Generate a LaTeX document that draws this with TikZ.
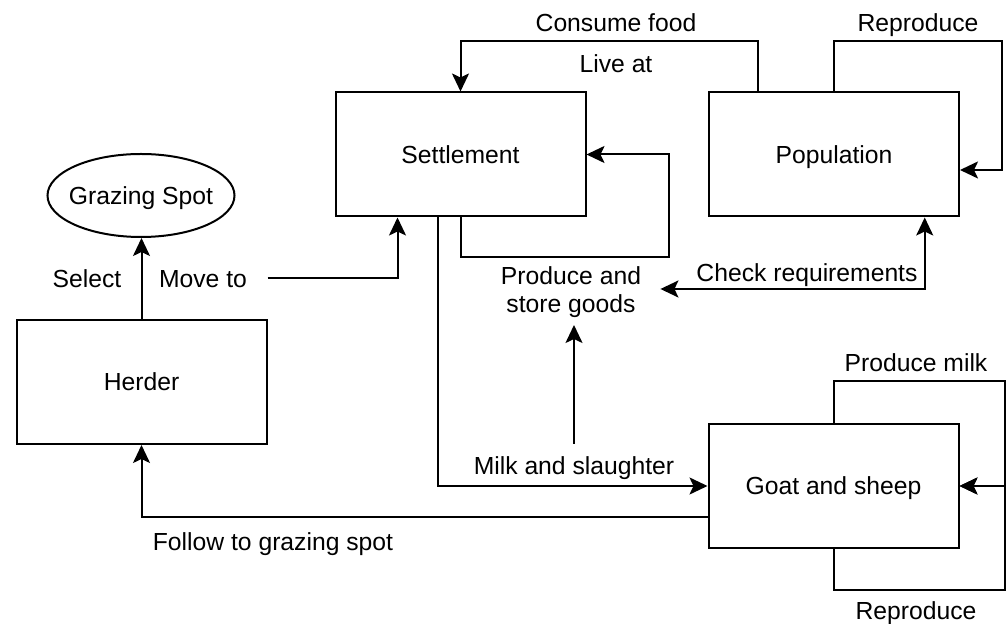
\documentclass[tikz,border=0pt]{standalone}
\usepackage{fontspec}
\setmainfont{Liberation Sans}
\usetikzlibrary{arrows.meta,calc,shapes.geometric}
\begin{document}
\begin{tikzpicture}[x=0.5pt,y=-0.5pt,
  font=\fontsize{12.35}{14}\selectfont,
  box/.style={draw,line width=1pt,rectangle,minimum width=125pt,minimum height=62pt,inner sep=0pt,text height=8.8pt,text depth=0pt},
  oval/.style={draw,line width=1pt,ellipse,minimum width=93.5pt,minimum height=41.5pt,inner xsep=-4pt,inner ysep=0pt,text height=8.8pt,text depth=0pt},
  lbl/.style={inner sep=0pt,text height=8.8pt,text depth=0pt},
  tip/.style={Stealth[length=9pt,width=8.5pt,inset=2pt]},
  conn/.style={line width=1pt,-{Stealth[length=9pt,width=8.5pt,inset=2pt]}},
  connboth/.style={line width=1pt,{Stealth[length=9pt,width=8.5pt,inset=2pt]}-{Stealth[length=9pt,width=8.5pt,inset=2pt]}}
]
\useasboundingbox (0,0) rectangle (1007,624);

% boxes
\node[box] (settle) at (460.5,154.5) {Settlement};
\node[box] (pop) at (834,154.5) {Population};
\node[box] (goat) at (833.5,486) {Goat and sheep};
\node[box] (herder) at (141.5,382) {Herder};
\node[oval] (graze) at (141,195.5) {Grazing Spot};

% labels
\node[lbl] (select) at (87,279) {Select};
\node[lbl] (moveto) at (203,279) {Move to};
\node[lbl] (follow) at (273,542) {Follow to grazing spot};
\node[lbl] (milk) at (574,466) {Milk and slaughter};
\node[align=center,inner sep=0pt] (prod) at (571,292) {Produce and\\store goods};
\node[lbl] (check) at (807,273) {Check requirements};
\node[lbl] (consume) at (616,23) {Consume food};
\node[lbl] (liveat) at (616,64) {Live at};
\node[lbl] (repro1) at (918,23) {Reproduce};
\node[lbl] (milkprod) at (916,363) {Produce milk};
\node[lbl] (repro2) at (916,611) {Reproduce};

% connectors
\draw[conn] (herder.north) -- (herder.north |- graze.south);
\coordinate (mvs) at ($(herder.north east)+(0,-41)$);
\draw[conn] (mvs) -| ($(settle.south west)!0.25!(settle.south east)$);
\draw[conn] ($(settle.south west)!0.41!(settle.south east)$) |- (goat.west);
\draw[conn] ($(goat.west)+(0,31)$) -| (herder.south);
\draw[conn] ($(pop.north west)!0.2!(pop.north east)$) -- ++(0,-50) -| (settle.north);
\draw[conn] (pop.north) -- ++(0,-50) -| ($(pop.east)+(42,15.5)$) -- ($(pop.east)+(0,15.5)$);
\draw[conn] (settle.south) -- ++(0,40) -| ($(settle.east)+(82,0)$) -- (settle.east);
\draw[connboth] ($(prod.east)+(19,-3)$) -| ($(pop.south west)!0.86!(pop.south east)$);
\draw[conn] ($(milk.center)+(0,-22)$) -- ($(milk.center |- prod.center)+(0,33)$);
\draw[conn] (goat.north) -- ++(0,-42) -| ($(goat.east)+(45,0)$) -- (goat.east);
\draw[conn] (goat.south) -- ++(0,41) -| ($(goat.east)+(45,0)$) -- (goat.east);
\end{tikzpicture}
\end{document}
